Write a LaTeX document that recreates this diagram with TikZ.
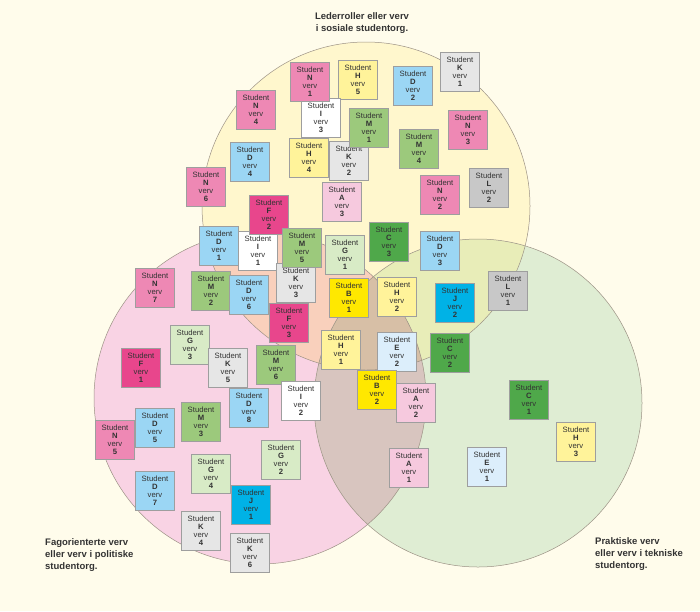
\documentclass[tikz,border=0pt]{standalone}
\usepackage{fontspec}
\setmainfont{Liberation Sans}
\definecolor{bg}{HTML}{FFFCEB}
\definecolor{rY}{HTML}{FFF7CD}
\definecolor{rP}{HTML}{F9D3E4}
\definecolor{rG}{HTML}{DFEDD3}
\definecolor{rYP}{HTML}{F9D0BC}
\definecolor{rYG}{HTML}{E8EDB8}
\definecolor{rPG}{HTML}{D8C5BF}
\definecolor{rYPG}{HTML}{D7BFA6}
\definecolor{ring}{HTML}{9C9285}
\definecolor{txt}{HTML}{333333}
\definecolor{cN}{HTML}{EE88B4}
\definecolor{cH}{HTML}{FFF39A}
\definecolor{cD}{HTML}{9BD6F4}
\definecolor{cK}{HTML}{E6E6E6}
\definecolor{cI}{HTML}{FFFFFF}
\definecolor{cM}{HTML}{9CC97C}
\definecolor{cL}{HTML}{C8C8C8}
\definecolor{cA}{HTML}{F6C9DE}
\definecolor{cF}{HTML}{E8468C}
\definecolor{cG}{HTML}{D8EBC6}
\definecolor{cC}{HTML}{4FA84A}
\definecolor{cJ}{HTML}{00B2E6}
\definecolor{cB}{HTML}{FFE800}
\definecolor{cE}{HTML}{DCEEFB}
\tikzset{
  sbox/.style={draw=black!38, line width=0.6pt, minimum size=39.5pt, inner sep=0pt,
    align=center, text=txt, font=\fontsize{7.7}{7.9}\selectfont},
  title/.style={inner sep=0pt, text=txt, font=\fontsize{9.5}{12.2}\selectfont\bfseries},
  ring/.style={draw=ring, line width=0.5pt}
}
\newcommand\stu[3]{\node[sbox, fill=c#1] (s#1#2) at (#3) {Student\\\textbf{#1}\\verv\\\textbf{#2}};}
\begin{document}
\begin{tikzpicture}[x=1pt,y=-1pt]
\fill[bg] (0,0) rectangle (700,611);
\useasboundingbox (0,0) rectangle (700,611);
\def\cY{(366,206) circle (164)}
\def\cP{(260,398) circle (166)}
\def\cG{(478,403) circle (164)}
\fill[rY] \cY;
\fill[rP] \cP;
\fill[rG] \cG;
\begin{scope}\clip \cY; \fill[rYP] \cP; \fill[rYG] \cG; \end{scope}
\begin{scope}\clip \cP; \fill[rPG] \cG; \end{scope}
\begin{scope}\clip \cY; \clip \cP; \fill[rYPG] \cG; \end{scope}
\draw[ring] \cY;
\draw[ring] \cP;
\draw[ring] \cG;
% titles
\node[title, align=center, anchor=north] (tY) at (362,12.5) {Lederroller eller verv\\i sosiale studentorg.};
\node[title, align=left, anchor=north west] (tP) at (45,538) {Fagorienterte verv\\eller verv i politiske\\studentorg.};
\node[title, align=left, anchor=north west] (tG) at (595,537) {Praktiske verv\\eller verv i tekniske\\studentorg.};
% boxes
\stu{K}{1}{460,72}
\stu{H}{5}{358,80}
\stu{D}{2}{413,86}
\stu{N}{4}{256,110}
\stu{I}{3}{321,118}
\stu{N}{1}{310,82}
\stu{N}{3}{468,130}
\stu{M}{4}{419,149}
\stu{D}{4}{250,162}
\stu{H}{4}{309,158}
\stu{K}{2}{349,161}
\stu{M}{1}{369,128}
\stu{L}{2}{489,188}
\stu{N}{6}{206,187}
\stu{N}{2}{440,195}
\stu{A}{3}{342,202}
\stu{D}{1}{219,246}
\stu{I}{1}{258,251}
\stu{F}{2}{269,215}
\stu{K}{3}{296,283}
\stu{M}{5}{302,248}
\stu{N}{7}{155,288}
\stu{M}{2}{211,291}
\stu{D}{6}{249,295}
\stu{F}{3}{289,323}
\stu{G}{3}{190,345}
\stu{F}{1}{141,368}
\stu{K}{5}{228,368}
\stu{M}{6}{276,365}
\stu{I}{2}{301,401}
\stu{G}{1}{345,255}
\stu{C}{3}{389,242}
\stu{D}{3}{440,251}
\stu{B}{1}{349,298}
\stu{H}{2}{397,297}
\stu{J}{2}{455,303}
\stu{L}{1}{508,291}
\stu{H}{1}{341,350}
\stu{E}{2}{397,352}
\stu{C}{2}{450,353}
\stu{B}{2}{377,390}
\stu{A}{2}{416,403}
\stu{C}{1}{529,400}
\stu{H}{3}{576,442}
\stu{A}{1}{409,468}
\stu{E}{1}{487,467}
\stu{D}{8}{249,408}
\stu{M}{3}{201,422}
\stu{D}{5}{155,428}
\stu{N}{5}{115,440}
\stu{G}{2}{281,460}
\stu{G}{4}{211,474}
\stu{D}{7}{155,491}
\stu{J}{1}{251,505}
\stu{K}{4}{201,531}
\stu{K}{6}{250,553}
\end{tikzpicture}
\end{document}
